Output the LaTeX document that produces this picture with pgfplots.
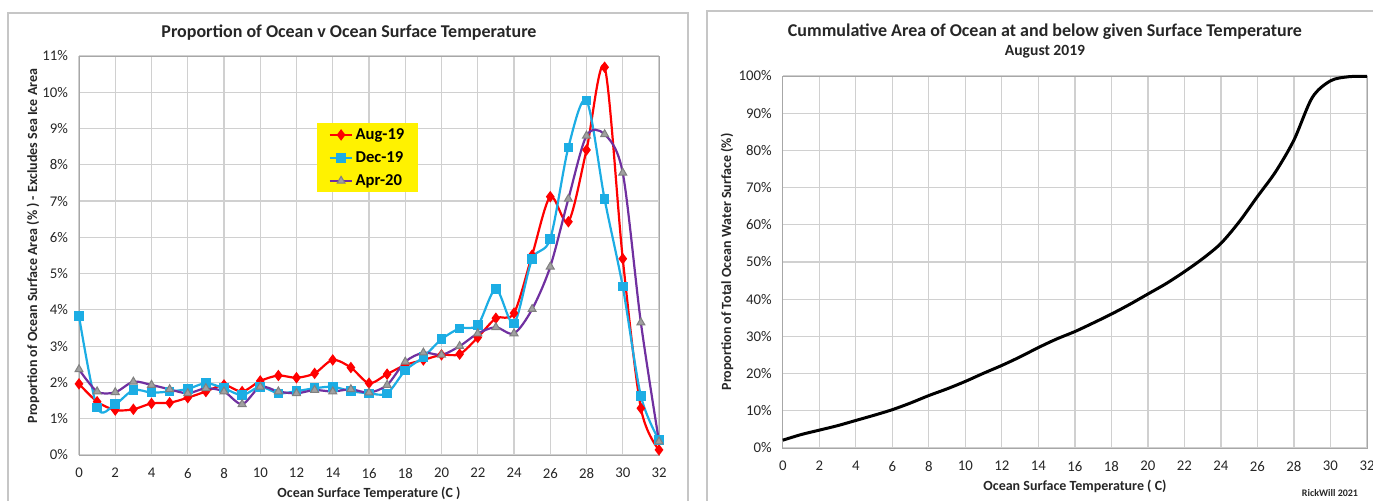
\documentclass[border=0pt]{standalone}
\usepackage{pgfplots}
\pgfplotsset{compat=1.18}
\usepackage{fontspec}
\setmainfont{Carlito}
\definecolor{augred}{HTML}{FF0000}
\definecolor{deccyan}{HTML}{1CADE4}
\definecolor{aprpurple}{HTML}{7030A0}
\definecolor{trigray}{HTML}{A0A0A0}
\definecolor{gridgray}{HTML}{D0D0D0}
\definecolor{txt}{HTML}{262626}
\begin{document}
\begin{tikzpicture}[x=0.5pt,y=0.5pt]
\useasboundingbox (0,0) rectangle (1373,501);
\coordinate (LO) at (79,46);
\coordinate (RO) at (782.8,53);
% panel frames
\draw[gray!45, line width=0.6pt] (8,-20) -- (8,488) -- (688,488) -- (688,-20);
\draw[gray!45, line width=0.6pt] (707,-20) -- (707,490) -- (1390,490);

\pgfplotsset{
  every axis/.append style={
    scale only axis,
    axis line style={gridgray!80!black},
    grid style={gridgray, line width=0.6pt},
    major tick length=0pt,
    tick label style={font=\fontsize{7.4}{8}\selectfont, text=txt},
    /pgf/number format/assume math mode=true,
    clip=false,
  }
}

% ---------- left chart ----------
\begin{axis}[
  at={(LO)}, anchor=south west,
  width=290pt, height=199.5pt,
  xmin=0, xmax=32, ymin=0, ymax=11,
  xtick={0,2,...,32}, ytick={0,1,...,11},
  yticklabel={\pgfmathprintnumber{\tick}\%},
  xmajorgrids, ymajorgrids,
  xticklabel style={yshift=-3pt},
  yticklabel style={xshift=-2pt},
  legend style={at={(0.409,0.832)}, anchor=north west, fill=yellow, draw=none,
    font=\fontsize{8.3}{9}\selectfont\bfseries, row sep=2pt, inner xsep=6pt, inner ysep=1pt,
    nodes={inner sep=1pt, text height=6pt, text depth=1.5pt}},
  legend cell align=left,
  legend image code/.code={\draw[mark repeat=2,mark phase=2] plot coordinates {(0cm,0cm) (0.2cm,0cm) (0.4cm,0cm)};},
]
\addplot[augred, line width=1.1pt, smooth, tension=0.5, mark=diamond*, mark size=2pt, mark options={fill=augred, draw=augred}] coordinates {
(0,1.96)(1,1.47)(2,1.24)(3,1.26)(4,1.42)(5,1.44)(6,1.58)(7,1.75)(8,1.93)(9,1.75)
(10,2.04)(11,2.19)(12,2.13)(13,2.25)(14,2.62)(15,2.41)(16,1.98)(17,2.23)(18,2.48)(19,2.62)
(20,2.76)(21,2.78)(22,3.24)(23,3.77)(24,3.91)(25,5.51)(26,7.12)(27,6.43)(28,8.41)(29,10.69)
(30,5.41)(31,1.29)(32,0.14)};
\addlegendentry{Aug-19}
\addplot[deccyan, line width=1.1pt, smooth, tension=0.5, mark=square*, mark size=1.85pt, mark options={fill=deccyan, draw=deccyan}] coordinates {
(0,3.83)(1,1.31)(2,1.40)(3,1.79)(4,1.72)(5,1.75)(6,1.82)(7,1.98)(8,1.84)(9,1.65)
(10,1.88)(11,1.70)(12,1.76)(13,1.84)(14,1.88)(15,1.76)(16,1.70)(17,1.70)(18,2.33)(19,2.70)
(20,3.19)(21,3.49)(22,3.58)(23,4.57)(24,3.63)(25,5.40)(26,5.96)(27,8.48)(28,9.77)(29,7.05)
(30,4.64)(31,1.63)(32,0.41)};
\addlegendentry{Dec-19}
\addplot[aprpurple, line width=1.1pt, smooth, tension=0.5, mark=triangle*, mark size=2.3pt, mark options={fill=trigray, draw=gray, line width=0.5pt}] coordinates {
(0,2.36)(1,1.75)(2,1.73)(3,2.02)(4,1.93)(5,1.81)(6,1.70)(7,1.84)(8,1.75)(9,1.40)
(10,1.88)(11,1.75)(12,1.70)(13,1.79)(14,1.75)(15,1.81)(16,1.72)(17,1.93)(18,2.57)(19,2.82)
(20,2.76)(21,3.00)(22,3.35)(23,3.52)(24,3.35)(25,4.02)(26,5.19)(27,7.06)(28,8.80)(29,8.84)
(30,7.78)(31,3.65)(32,0.37)};
\addlegendentry{Apr-20}
\end{axis}

% ---------- right chart ----------
\begin{axis}[
  at={(RO)}, anchor=south west,
  width=292.1pt, height=186pt,
  xmin=0, xmax=32, ymin=0, ymax=100,
  xtick={0,2,...,32}, ytick={0,10,...,100},
  yticklabel={\pgfmathprintnumber{\tick}\%},
  xmajorgrids, ymajorgrids,
  xticklabel style={yshift=-3pt},
  yticklabel style={xshift=-2pt},
]
\addplot[black, line width=1.5pt, smooth, tension=0.5] coordinates {
(0,2.1)(1,3.6)(2,4.8)(3,6.0)(4,7.4)(5,8.8)(6,10.3)(7,12.1)(8,14.1)(9,15.9)
(10,17.9)(11,20.1)(12,22.2)(13,24.5)(14,27.0)(15,29.3)(16,31.3)(17,33.6)(18,36.0)(19,38.6)
(20,41.4)(21,44.2)(22,47.4)(23,50.9)(24,55.0)(25,60.8)(26,67.6)(27,74.3)(28,82.8)(29,94.2)
(30,98.7)(31,99.8)(32,99.9)};
\end{axis}

% ---------- titles and labels ----------
\node[font=\fontsize{9}{10}\selectfont\bfseries, text=txt] at (349,468) {Proportion of Ocean v Ocean Surface Temperature};
\node[font=\fontsize{7}{8}\selectfont\bfseries, text=txt] at (369,8) {Ocean Surface Temperature (C )};
\node[font=\fontsize{7}{8}\selectfont\bfseries, text=txt, rotate=90] at (33,255) {Proportion of Ocean Surface Area (\% ) - Excludes Sea Ice Area};

\node[font=\fontsize{9}{10}\selectfont\bfseries, text=txt] at (1045,469) {Cummulative Area of Ocean at and below given Surface Temperature};
\node[font=\fontsize{7.8}{9}\selectfont\bfseries, text=txt] at (1045,449) {August 2019};
\node[font=\fontsize{7}{8}\selectfont\bfseries, text=txt] at (1075,15) {Ocean Surface Temperature ( C)};
\node[font=\fontsize{7}{8}\selectfont\bfseries, text=txt, rotate=90] at (727,239) {Proportion of Total Ocean Water Surface (\%)};
\node[font=\fontsize{5}{6}\selectfont\bfseries, text=txt] at (1330,8) {RickWill 2021};
\end{tikzpicture}
\end{document}
